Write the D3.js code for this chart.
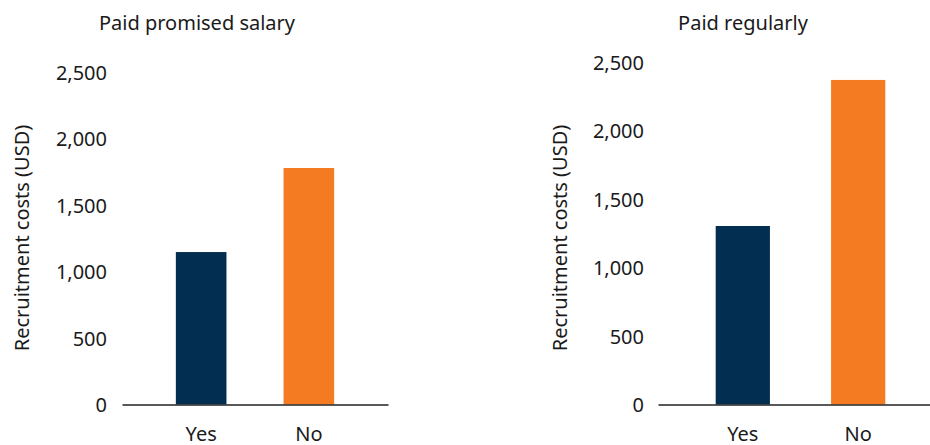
<!DOCTYPE html>
<html><head><meta charset="utf-8">
<script src="https://cdn.jsdelivr.net/npm/d3@7"></script>
<style>
html,body{margin:0;padding:0;background:#fff;}
text{font-family:"Noto Sans",Lato,sans-serif;fill:#1a1a1a;}
</style></head>
<body><svg id="chart" width="930" height="445"></svg>
<script>
const categories = ["Yes", "No"];
const panelTitles = ["Paid promised salary", "Paid regularly"];
const promisedSalaryValues = [1148, 1781];
const regularlyValues = [1303, 2369];
const yTicks = [0, 500, 1000, 1500, 2000, 2500];
const yLabel = "Recruitment costs (USD)";
const barColors = ["#022F51", "#F47B22"];

const svg = d3.select("#chart");
const fmt = d3.format(",");

const panels = [
  {title: panelTitles[0], values: promisedSalaryValues, x0: 122, x1: 388, yTop: 72.5, yBot: 404.5, titleX: 197, axisTitleX: 22, tickX: 107},
  {title: panelTitles[1], values: regularlyValues, x0: 658, x1: 943, yTop: 62, yBot: 404.5, titleX: 743, axisTitleX: 560, tickX: 644}
];

panels.forEach(p => {
  const g = svg.append("g");
  const x = d3.scaleBand().domain(categories).range([p.x0, p.x1]).paddingInner(0.53).paddingOuter(0.5);
  const y = d3.scaleLinear().domain([0, 2500]).range([p.yBot, p.yTop]);

  g.selectAll("rect").data(categories).join("rect")
    .attr("x", d => x(d))
    .attr("width", x.bandwidth())
    .attr("y", (d, i) => y(p.values[i]))
    .attr("height", (d, i) => y(0) - y(p.values[i]))
    .attr("fill", (d, i) => barColors[i]);

  const ya = g.append("g").attr("transform", `translate(${p.tickX},0)`)
    .call(d3.axisLeft(y).tickValues(yTicks).tickFormat(fmt).tickSize(0).tickPadding(0));
  ya.select(".domain").remove();
  ya.selectAll("text").style("font-size", "20px").attr("fill", "#1a1a1a").attr("dy", "0.35em");

  const xa = g.append("g").attr("transform", `translate(0,${p.yBot})`)
    .call(d3.axisBottom(x).tickSize(0).tickPadding(0));
  xa.select(".domain").attr("stroke", "#222").attr("stroke-width", 1.5);
  xa.selectAll("text").style("font-size", "20px").attr("fill", "#1a1a1a").attr("y", 36).attr("dy", 0);

  g.append("text").attr("x", p.titleX).attr("y", 30).attr("text-anchor", "middle")
    .style("font-size", "20px").text(p.title);

  g.append("text").attr("transform", `translate(${p.axisTitleX + 7},${(123 + 353) / 2}) rotate(-90)`)
    .attr("text-anchor", "middle").style("font-size", "20px").text(yLabel);
});
</script></body></html>
